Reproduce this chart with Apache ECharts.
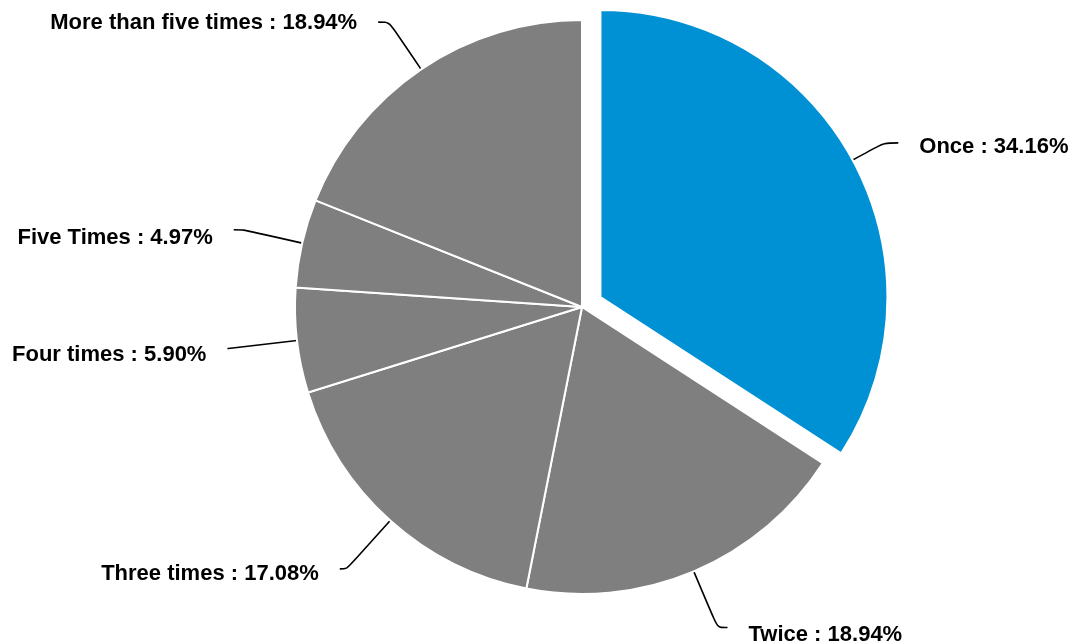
<!DOCTYPE html>
<html>
<head>
<meta charset="utf-8">
<script src="https://cdn.jsdelivr.net/npm/echarts@6/dist/echarts.min.js"></script>
<style>
  html, body { margin: 0; padding: 0; background: #ffffff; }
  #chart { width: 1070px; height: 644px; }
</style>
</head>
<body>
<div id="chart"></div>
<script>
// Visit frequency shares (percent)
const categories = ['Once', 'Twice', 'Three times', 'Four times', 'Five Times', 'More than five times'];
const shares = [34.16, 18.94, 17.08, 5.90, 4.97, 18.94];
const sliceColors = ['#0090d4', '#7f7f7f', '#7f7f7f', '#7f7f7f', '#7f7f7f', '#7f7f7f'];
// Leader line segment lengths per slice: [radial part, horizontal part]
const leaderLengths = [[36, 14], [61, 10], [65, 7], [69, 1], [60, 10], [57, 11]];
// Vertical nudge of each label below its leader line end
const labelDrop = [4, 7, 5, 6, 8, 1];

const chart = echarts.init(document.getElementById('chart'), null, { renderer: 'canvas' });

const data = categories.map((name, i) => ({
  name: name,
  value: shares[i],
  selected: i === 0,
  itemStyle: { color: sliceColors[i] },
  label: { offset: [0, labelDrop[i]] },
  select: {
    itemStyle: { color: sliceColors[i], borderColor: '#ffffff', borderWidth: 2 },
    label: { offset: [0, labelDrop[i]] }
  },
  labelLine: { length: leaderLengths[i][0], length2: leaderLengths[i][1] }
}));

chart.setOption({
  animation: false,
  backgroundColor: '#ffffff',
  series: [{
    type: 'pie',
    center: [582, 307],
    radius: 287,
    startAngle: 90,
    clockwise: true,
    selectedMode: 'single',
    selectedOffset: 21,
    avoidLabelOverlap: false,
    itemStyle: { borderColor: '#ffffff', borderWidth: 2 },
    label: {
      show: true,
      formatter: p => p.name + ' : ' + p.value.toFixed(2) + '%',
      fontFamily: '"Liberation Sans", Arial, sans-serif',
      fontWeight: 'bold',
      fontSize: 22,
      color: '#000000',
      distanceToLabelLine: 21
    },
    labelLine: {
      show: true,
      smooth: true,
      lineStyle: { color: '#000000', width: 1.6 }
    },
    emphasis: { disabled: true },
    data: data
  }]
});
</script>
</body>
</html>
